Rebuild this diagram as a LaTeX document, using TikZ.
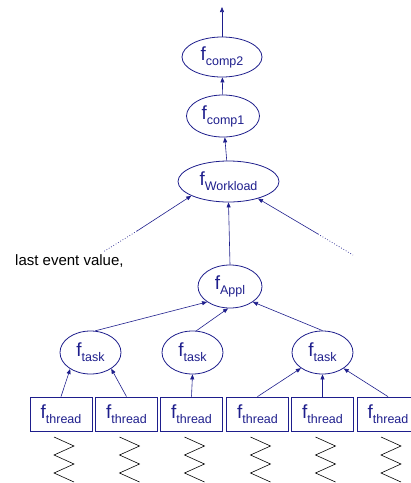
\documentclass[tikz,border=0pt]{standalone}
\usepackage{fontspec}
\setmainfont{Liberation Sans}
\usetikzlibrary{shapes.geometric,arrows.meta}
\definecolor{navy}{RGB}{30,30,140}
\newcommand{\fsub}[1]{{\fontsize{19}{19}\selectfont f}\raisebox{-5pt}{\fontsize{12.5}{12.5}\selectfont #1}}
\tikzset{
  fnode/.style={ellipse, draw=navy, line width=0.8pt, text=navy, inner sep=0pt},
  thbox/.style={rectangle, draw=navy, line width=0.8pt, text=navy, inner sep=0pt,
    minimum width=62pt, minimum height=34pt},
  feed/.style={draw=navy, line width=0.6pt, -{Triangle[length=5pt,width=4pt]}},
  dotline/.style={draw=navy, line width=0.7pt, dotted},
  spring/.style={draw=black, line width=0.6pt}
}
\begin{document}
\begin{tikzpicture}[x=1pt,y=-1pt]
\useasboundingbox (0,0) rectangle (411,483);
\clip (0,0) rectangle (411,483);

% functions
\node[fnode, minimum width=80pt, minimum height=40pt] (c2) at (222,57) {\fsub{comp2}};
\node[fnode, minimum width=73pt, minimum height=42pt] (c1) at (223,116) {\fsub{comp1}};
\node[fnode, minimum width=101pt, minimum height=41pt] (wl) at (228.5,181.5) {\fsub{Workload}};
\node[fnode, minimum width=64pt, minimum height=43pt] (ap) at (230,286.5) {\fsub{Appl}};
\node[fnode, minimum width=61pt, minimum height=43pt] (t1) at (90.5,352.5) {\fsub{task}};
\node[fnode, minimum width=61pt, minimum height=43pt] (t2) at (192.5,352.5) {\fsub{task}};
\node[fnode, minimum width=61pt, minimum height=43pt] (t3) at (322.5,352.5) {\fsub{task}};

% threads
\foreach \i/\cx in {1/61,2/126.5,3/191.5,4/257.5,5/322.5,6/388}{
  \node[thbox] (th\i) at (\cx,414) {\fsub{thread}};
  \draw[spring] (\cx+3-10,437) -- (\cx+3+10,446) -- (\cx+3-10,455)
     -- (\cx+3+10,464) -- (\cx+3-10,473) -- (\cx+3+10,482);
}

% outgoing result
\coordinate (out) at (222,7);
\draw[feed] (c2.north) -- (out);
\draw[feed] (c1) -- (c2);
\draw[feed] (wl) -- (c1);

% inputs to the workload function
\coordinate (l1) at (137,231);
\coordinate (l0) at (103,252);
\coordinate (r1) at (318,234);
\coordinate (r0) at (353,255);
\draw[feed] (l1) -- (wl.201);
\draw[dotline] (l1) -- (l0);
\draw[feed] (r1) -- (wl.330);
\draw[dotline] (r1) -- (r0);
\draw[feed] (ap.north) -- (wl.south);
\node[anchor=west, inner sep=0pt, font=\fontsize{15}{15}\selectfont] (lev) at (15,261) {last event value,};

% tasks into application
\draw[feed] (t1.78) -- (ap.214);
\draw[feed] (t2.80) -- (ap.265);
\draw[feed] (t3.north) -- (ap.326);

% threads into tasks
\draw[feed] (th1.north) -- (t1.219);
\draw[feed] (th2.north) -- (t1.322);
\draw[feed] (th3.north) -- (t2.south);
\draw[feed] (th4.north) -- (t3.216);
\draw[feed] (th5.north) -- (t3.south);
\draw[feed] (th6.north) -- (t3.323);
\end{tikzpicture}
\end{document}
